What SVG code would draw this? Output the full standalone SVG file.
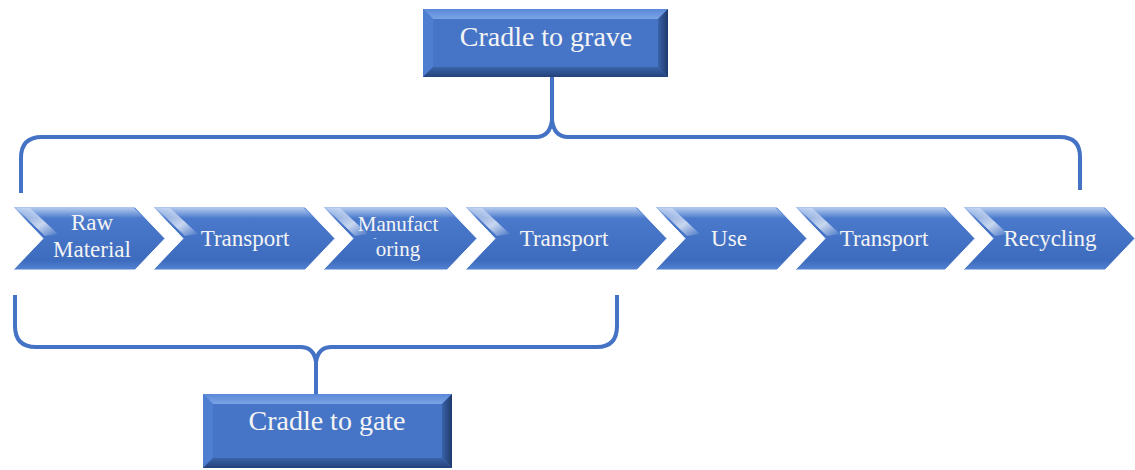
<svg xmlns="http://www.w3.org/2000/svg" width="1135" height="470" viewBox="0 0 1135 470">
<defs>
<linearGradient id="chevFill" x1="0" y1="0" x2="0" y2="1">
<stop offset="0" stop-color="#5F8EDB"/>
<stop offset="0.2" stop-color="#4A79CB"/>
<stop offset="0.85" stop-color="#3D6BBE"/>
<stop offset="1" stop-color="#5583D2"/>
</linearGradient>
<linearGradient id="topHi" x1="0" y1="0" x2="0" y2="1">
<stop offset="0" stop-color="#FFFFFF" stop-opacity="0.5"/>
<stop offset="1" stop-color="#FFFFFF" stop-opacity="0"/>
</linearGradient>
<linearGradient id="diagHi" x1="0" y1="0" x2="1" y2="1">
<stop offset="0" stop-color="#FFFFFF" stop-opacity="0.15"/>
<stop offset="0.6" stop-color="#FFFFFF" stop-opacity="0.7"/>
<stop offset="1" stop-color="#FFFFFF" stop-opacity="0"/>
</linearGradient>
<linearGradient id="bevRight" x1="0" y1="0" x2="1" y2="0">
<stop offset="0" stop-color="#3A63A8"/>
<stop offset="1" stop-color="#1F3A6B"/>
</linearGradient>
<linearGradient id="bevBottom" x1="0" y1="0" x2="0" y2="1">
<stop offset="0" stop-color="#3A63A8"/>
<stop offset="1" stop-color="#23427A"/>
</linearGradient>
<linearGradient id="bevTop" x1="0" y1="0" x2="0" y2="1">
<stop offset="0" stop-color="#5A88D8"/>
<stop offset="1" stop-color="#7BA3E6"/>
</linearGradient>
</defs>
<style>
.chev{fill:url(#chevFill);stroke:#FFFFFF;stroke-width:1}
.hi{fill:url(#topHi)}
.dg{fill:url(#diagHi)}
.lbl{font-family:'Liberation Serif','DejaVu Serif','Noto Serif','Times New Roman',serif;font-size:23px;fill:#F4F4F4;text-anchor:middle}
.small{font-size:21px}
.big{font-family:'Liberation Serif','DejaVu Serif','Noto Serif','Times New Roman',serif;font-size:28px;fill:#F4F4F4;text-anchor:middle}
.conn{fill:none;stroke:#4472C4;stroke-width:4;stroke-linecap:butt;stroke-linejoin:round}
.bc{fill:#4675C8}
.bt{fill:url(#bevTop)}
.bl{fill:#4E7ED0}
.br{fill:url(#bevRight)}
.bb{fill:url(#bevBottom)}
</style>
<rect width="1135" height="470" fill="#FFFFFF"/>

<g id="connectors">
<path class="conn" d="M 21,193 L 21,158 Q 21,137 42,137 L 536,137 Q 550,137 552,120 L 552,77 M 552,120 Q 554,137 568,137 L 1060,137 Q 1080,137 1080,157 L 1080,190"/>
<path class="conn" d="M 15,295 L 15,326 Q 15,347 36,347 L 300,347 Q 314,347 316,362 L 316,395 M 316,362 Q 318,347 332,347 L 597,347 Q 617,347 617,326 L 617,295"/>
</g>

<g id="cradle-to-grave">
<rect class="bc" x="423" y="9" width="245" height="68"/>
<polygon class="bt" points="423,9 668,9 658,19 433,19"/>
<polygon class="bl" points="423,9 433,19 433,67 423,77"/>
<polygon class="br" points="668,9 668,77 658,67 658,19"/>
<polygon class="bb" points="423,77 668,77 658,67 433,67"/>
<text class="big" x="546" y="46">Cradle to grave</text>
</g>

<g id="cradle-to-gate">
<rect class="bc" x="203" y="394" width="249" height="74"/>
<polygon class="bt" points="203,394 452,394 442,404 213,404"/>
<polygon class="bl" points="203,394 213,404 213,458 203,468"/>
<polygon class="br" points="452,394 452,468 442,458 442,404"/>
<polygon class="bb" points="203,468 452,468 442,458 213,458"/>
<text class="big" x="327" y="430">Cradle to gate</text>
</g>

<g id="raw-material">
<path class="chev" d="M 13,207 L 135,207 L 165,238.5 L 135,270 L 13,270 L 43,238.5 Z"/>
<path class="hi" d="M 14,208 L 134,208 L 144,218 L 24,218 Z"/>
<path class="dg" d="M 16,208 L 30,208 L 58,234 L 45,236 Z"/>
<text class="lbl" x="92" y="230">Raw</text>
<text class="lbl" x="92" y="257">Material</text>
</g>

<g id="transport-1">
<path class="chev" d="M 153,207 L 305,207 L 335,238.5 L 305,270 L 153,270 L 183,238.5 Z"/>
<path class="hi" d="M 154,208 L 304,208 L 314,218 L 164,218 Z"/>
<path class="dg" d="M 156,208 L 170,208 L 198,234 L 185,236 Z"/>
<text class="lbl" x="245" y="246">Transport</text>
</g>

<g id="manufacturing">
<path class="chev" d="M 323,207 L 447,207 L 477,238.5 L 447,270 L 323,270 L 353,238.5 Z"/>
<path class="hi" d="M 324,208 L 446,208 L 456,218 L 334,218 Z"/>
<path class="dg" d="M 326,208 L 340,208 L 368,234 L 355,236 Z"/>
<text class="lbl small" x="398" y="231">Manufact</text>
<text class="lbl" x="375" y="241" style="font-size:9px">-</text>
<text class="lbl small" x="398" y="256">oring</text>
</g>

<g id="transport-2">
<path class="chev" d="M 465,207 L 637,207 L 667,238.5 L 637,270 L 465,270 L 495,238.5 Z"/>
<path class="hi" d="M 466,208 L 636,208 L 646,218 L 476,218 Z"/>
<path class="dg" d="M 468,208 L 482,208 L 510,234 L 497,236 Z"/>
<text class="lbl" x="564" y="246">Transport</text>
</g>

<g id="use">
<path class="chev" d="M 655,207 L 777,207 L 807,238.5 L 777,270 L 655,270 L 685,238.5 Z"/>
<path class="hi" d="M 656,208 L 776,208 L 786,218 L 666,218 Z"/>
<path class="dg" d="M 658,208 L 672,208 L 700,234 L 687,236 Z"/>
<text class="lbl" x="729" y="246">Use</text>
</g>

<g id="transport-3">
<path class="chev" d="M 795,207 L 945,207 L 975,238.5 L 945,270 L 795,270 L 825,238.5 Z"/>
<path class="hi" d="M 796,208 L 944,208 L 954,218 L 806,218 Z"/>
<path class="dg" d="M 798,208 L 812,208 L 840,234 L 827,236 Z"/>
<text class="lbl" x="884" y="246">Transport</text>
</g>

<g id="recycling">
<path class="chev" d="M 963,207 L 1105,207 L 1135,238.5 L 1105,270 L 963,270 L 993,238.5 Z"/>
<path class="hi" d="M 964,208 L 1104,208 L 1114,218 L 974,218 Z"/>
<path class="dg" d="M 966,208 L 980,208 L 1008,234 L 995,236 Z"/>
<text class="lbl" x="1050" y="246">Recycling</text>
</g>
</svg>
